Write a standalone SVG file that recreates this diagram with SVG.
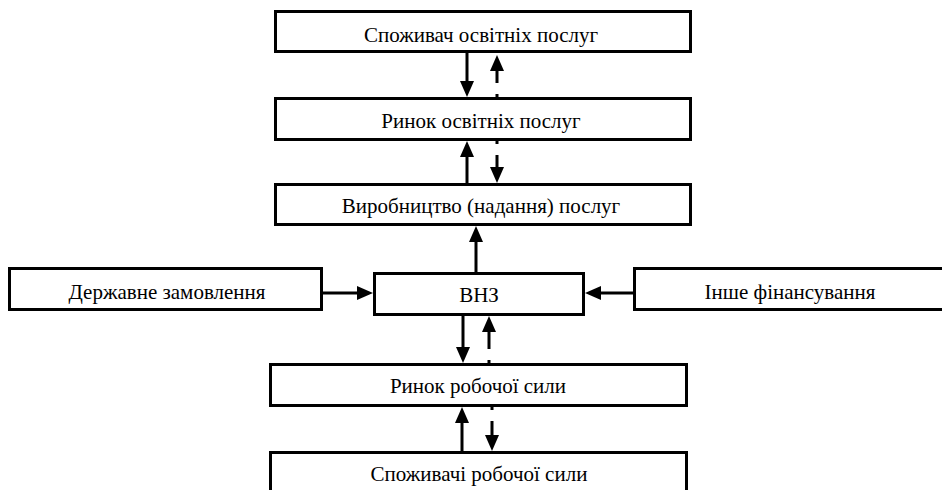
<svg xmlns="http://www.w3.org/2000/svg" width="942" height="490" viewBox="0 0 942 490">
<defs>
<style>
.box{fill:#fff;stroke:#000;stroke-width:3}
.t{font-family:'Liberation Serif','Times New Roman',serif;font-size:21px;fill:#000;text-anchor:middle}
.c{stroke:#000;stroke-width:3;fill:none;marker-end:url(#ah)}
.d{stroke-dasharray:3 11 300}
</style>
<marker id="ah" markerUnits="userSpaceOnUse" markerWidth="16" markerHeight="14" refX="0" refY="7" orient="auto" overflow="visible">
<path d="M0,0 L16,7 L0,14 Z" fill="#000"/>
</marker>
</defs>
<rect width="942" height="490" fill="#fff"/>
<g id="n1"><rect class="box" x="275.5" y="11.5" width="415" height="40"/><text class="t" x="481" y="42">Споживач освітніх послуг</text></g>
<g id="n2"><rect class="box" x="275.5" y="98.5" width="415" height="41"/><text class="t" x="481" y="128">Ринок освітніх послуг</text></g>
<g id="n3"><rect class="box" x="275.5" y="184.5" width="415" height="40"/><text class="t" x="481" y="213">Виробництво (надання) послуг</text></g>
<g id="n4"><rect class="box" x="9.5" y="268.5" width="312" height="41"/><text class="t" x="167" y="299">Державне замовлення</text></g>
<g id="n5"><rect class="box" x="374.5" y="273.5" width="209" height="41"/><text class="t" x="479" y="302">ВНЗ</text></g>
<g id="n6"><rect class="box" x="634.5" y="268.5" width="320" height="41"/><text class="t" x="790" y="299">Інше фінансування</text></g>
<g id="n7"><rect class="box" x="270.5" y="364.5" width="416" height="41"/><text class="t" x="478" y="393">Ринок робочої сили</text></g>
<g id="n8"><rect class="box" x="270.5" y="452.5" width="416" height="60"/><text class="t" x="479" y="481">Споживачі робочої сили</text></g>
<g id="edges">
<line class="c" x1="467" y1="53" x2="467" y2="81"/>
<line class="c d" x1="497" y1="97" x2="497" y2="71"/>
<line class="c" x1="467" y1="183" x2="467" y2="157"/>
<line class="c d" x1="497" y1="141" x2="497" y2="167"/>
<line class="c" x1="476" y1="272" x2="476" y2="242"/>
<line class="c" x1="323" y1="293" x2="357" y2="293"/>
<line class="c" x1="633" y1="293" x2="601" y2="293"/>
<line class="c" x1="463" y1="316" x2="463" y2="347"/>
<line class="c d" x1="489" y1="363" x2="489" y2="332"/>
<line class="c" x1="462" y1="451" x2="462" y2="423"/>
<line class="c d" x1="492" y1="407" x2="492" y2="435"/>
</g>
</svg>
